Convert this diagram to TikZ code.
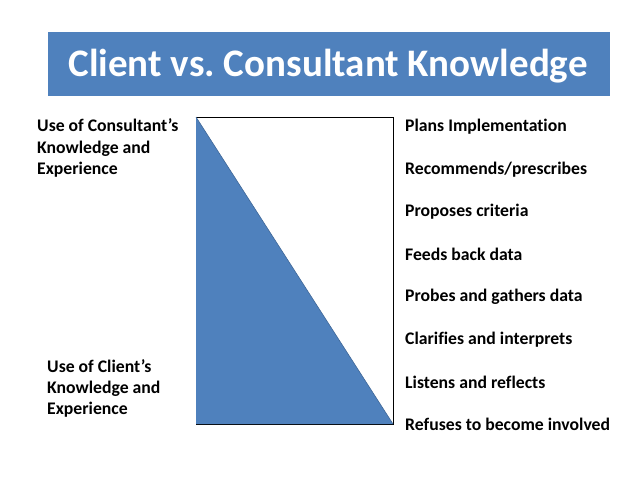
\documentclass[tikz,border=0pt]{standalone}
\usepackage{fontspec}
\setmainfont[Ligatures=NoCommon]{Carlito}
\definecolor{ofblue}{HTML}{4F81BD}
\begin{document}
\begin{tikzpicture}[x=1pt,y=-1pt,
  lbl/.style={font=\bfseries\fontsize{17.7}{21.3}\selectfont, anchor=west, inner sep=0pt, align=left},
  ttl/.style={font=\bfseries\fontsize{39}{44}\selectfont, text=white, inner sep=0pt}]
\useasboundingbox (0,0) rectangle (638,479);
\fill[ofblue] (48,32) rectangle (610,96);
\node[ttl] (title) at (328,66) {Client vs.\ Consultant Knowledge};
\coordinate (tl) at (196,117);
\coordinate (br) at (393,424);
\coordinate (bl) at (196,424);
\draw[black, line width=0.8pt] (tl) rectangle (br);
\fill[ofblue] (tl) -- (br) -- (bl) -- cycle;
\draw[ofblue!80!black, line width=0.6pt] (tl) -- (br);
\node[lbl] (cons) at (37,148) {Use of Consultant’s\\Knowledge and\\Experience};
\node[lbl] (cli) at (47,388.5) {Use of Client’s\\Knowledge and\\Experience};
\node[lbl] (r1) at (405,127) {Plans Implementation};
\node[lbl] (r2) at (405,169.5) {Recommends/prescribes};
\node[lbl] (r3) at (405,212) {Proposes criteria};
\node[lbl] (r4) at (405,254.5) {Feeds back data};
\node[lbl] (r5) at (405,297) {Probes and gathers data};
\node[lbl] (r6) at (405,339.5) {Clarifies and interprets};
\node[lbl] (r7) at (405,382) {Listens and reflects};
\node[lbl] (r8) at (405,424.5) {Refuses to become involved};
\end{tikzpicture}
\end{document}
